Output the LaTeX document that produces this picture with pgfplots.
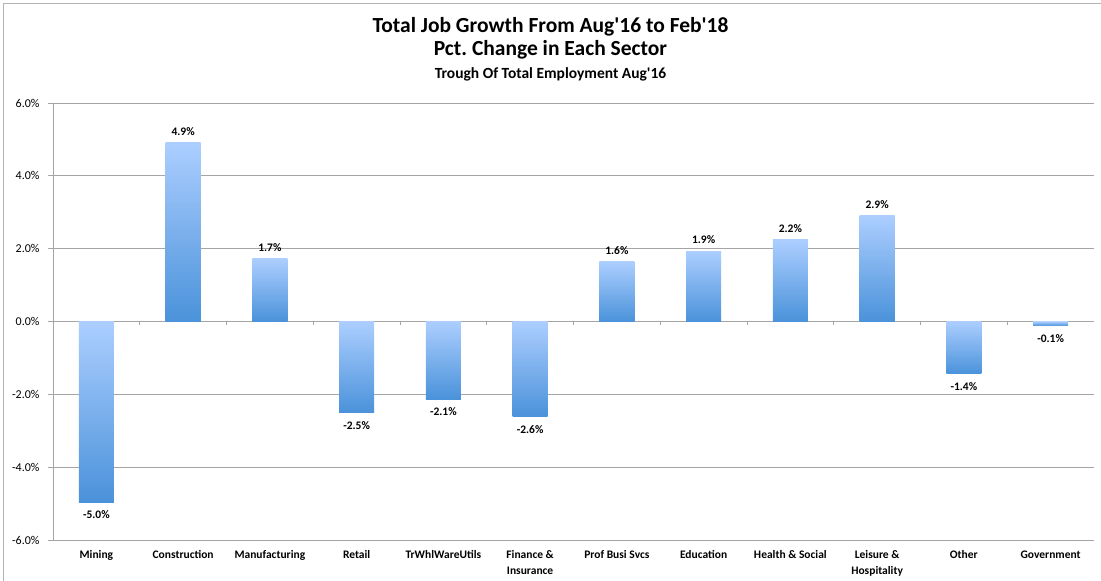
\documentclass[border=0pt]{standalone}
\usepackage{pgfplots}
\pgfplotsset{compat=1.18}
\usepackage{fontspec}
\setmainfont{Carlito}
\definecolor{bartop}{RGB}{172,206,255}
\definecolor{barbot}{RGB}{74,146,218}
\definecolor{gridc}{RGB}{165,165,165}
\definecolor{framec}{RGB}{180,180,180}
\newcommand\onebar[2]{\addplot[ybar, bar shift=0pt, bar width=35pt, draw=none, top color=bartop, bottom color=barbot] coordinates {(#1,#2)};}
\begin{document}
\begin{tikzpicture}[x=1pt,y=1pt]
\begin{axis}[
  name=ax,
  scale only axis, width=1041pt, height=437pt,
  xmin=-0.5, xmax=11.5, ymin=-6, ymax=6,
  axis lines*=left,
  axis line style={gridc, line width=0.8pt, -},
  ytick={-6,-4,...,6},
  ymajorgrids,
  grid style={gridc, line width=0.8pt},
  yticklabel={\pgfmathprintnumber[fixed,fixed zerofill,precision=1]{\tick}\%},
  /pgf/number format/assume math mode=true,
  yticklabel style={font=\fontsize{12}{14}\selectfont, xshift=-5pt},
  y tick style={gridc, line width=0.8pt},
  tick align=outside,
  major tick length=5pt,
  xtick={0,...,11},
  x tick style={draw=none},
  xticklabels={Mining, Construction, Manufacturing, Retail, TrWhlWareUtils, {Finance \&\\Insurance}, Prof Busi Svcs, Education, Health \& Social, {Leisure \&\\Hospitality}, Other, Government},
  xticklabel style={font=\bfseries\fontsize{11.5}{15.5}\selectfont, align=center, anchor=north, yshift=-2pt},
  clip=false,
]
\pgfplotsinvokeforeach{0.5,1.5,...,10.5}{\draw[gridc, line width=0.8pt] (axis cs:#1,0) -- ++(0pt,-4pt);}
\onebar{0}{-4.97}
\onebar{1}{4.91}
\onebar{2}{1.72}
\onebar{3}{-2.5}
\onebar{4}{-2.13}
\onebar{5}{-2.62}
\onebar{6}{1.64}
\onebar{7}{1.93}
\onebar{8}{2.24}
\onebar{9}{2.9}
\onebar{10}{-1.44}
\onebar{11}{-0.12}
\addplot[draw=none, mark=none, point meta=explicit,
  nodes near coords={\pgfmathprintnumber[fixed,fixed zerofill,precision=1]{\pgfplotspointmeta}\%},
  nodes near coords style={font=\bfseries\fontsize{11.5}{13}\selectfont, anchor=south, yshift=4pt, text=black}]
  coordinates {(1,4.91) [4.9] (2,1.72) [1.7] (6,1.64) [1.6] (7,1.93) [1.9] (8,2.24) [2.2] (9,2.9) [2.9]};
\addplot[draw=none, mark=none, point meta=explicit,
  nodes near coords={\pgfmathprintnumber[fixed,fixed zerofill,precision=1]{\pgfplotspointmeta}\%},
  nodes near coords style={font=\bfseries\fontsize{11.5}{13}\selectfont, anchor=north, yshift=-5pt, text=black}]
  coordinates {(0,-4.97) [-5.0] (3,-2.5) [-2.5] (4,-2.13) [-2.1] (5,-2.62) [-2.6] (10,-1.44) [-1.4] (11,-0.12) [-0.1]};
\end{axis}
\pgfresetboundingbox
\begin{scope}[shift={(ax.south west)}]
\path[use as bounding box] (-53,-41) rectangle (1048,540);
\draw[framec, line width=1pt] (-49.5,-41) -- (-49.5,536.5) -- (1048,536.5);
\node[font=\bfseries\fontsize{21.5}{24}\selectfont] at (497.5,513) {Total Job Growth From Aug\textquotesingle16 to Feb\textquotesingle18};
\node[font=\bfseries\fontsize{21.5}{24}\selectfont] at (497.5,490) {Pct.\ Change in Each Sector};
\node[font=\bfseries\fontsize{15.5}{18}\selectfont] at (497.5,466) {Trough Of Total Employment Aug\textquotesingle16};
\end{scope}
\end{tikzpicture}
\end{document}
